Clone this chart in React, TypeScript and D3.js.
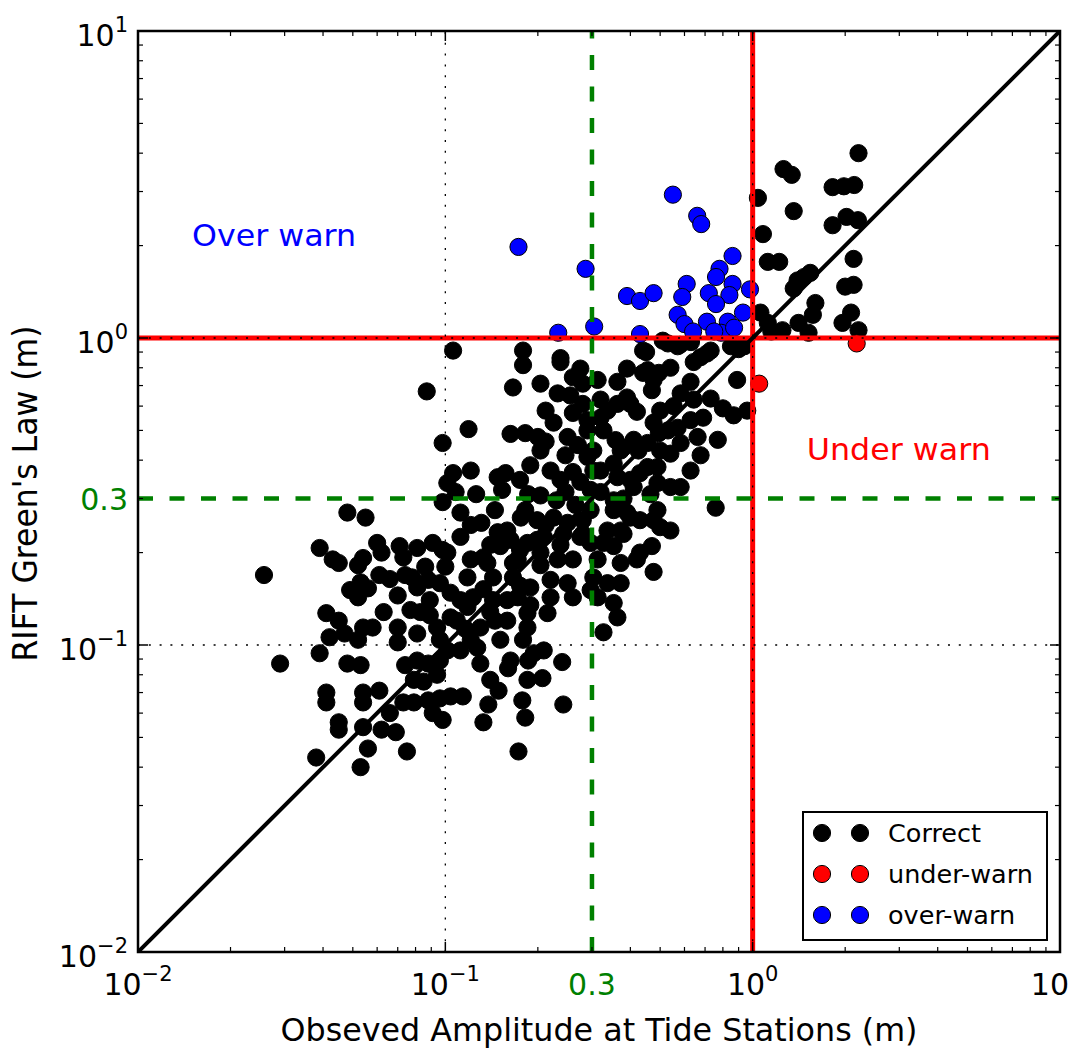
import React from 'react';
import * as d3 from 'd3';

// Observed amplitude (m), RIFT Green's law amplitude (m)
const correctPts: [number, number][] = [
  [2.21, 4.0], [1.26, 3.55], [1.34, 3.40], [1.04, 2.86], [1.82, 3.10], [1.98, 3.12], [2.14, 3.15], [1.36, 2.59],
  [1.08, 2.18], [1.82, 2.33], [2.02, 2.48], [2.20, 2.42], [1.12, 1.77], [1.22, 1.77], [2.13, 1.81], [1.40, 1.54],
  [1.54, 1.63], [1.36, 1.45], [1.47, 1.58], [2.0, 1.47], [2.13, 1.49], [1.06, 1.21], [1.12, 1.12], [1.60, 1.30],
  [1.57, 1.19], [1.41, 1.12], [1.52, 1.04], [1.25, 1.06], [1.15, 1.05], [2.09, 1.21], [1.96, 1.12], [2.21, 1.06],
  [0.94, 0.94], [0.106, 0.91], [0.179, 0.91], [0.237, 0.86], [0.44, 0.91], [0.51, 0.98], [0.57, 0.94], [0.63, 0.97],
  [0.71, 0.89], [0.85, 0.94], [0.53, 0.96], [0.58, 0.95], [0.45, 0.90], [0.73, 0.91], [0.90, 0.92],
  [0.179, 0.816], [0.237, 0.835], [0.275, 0.795], [0.26, 0.745], [0.313, 0.73], [0.28, 0.71], [0.455, 0.786],
  [0.54, 0.80], [0.643, 0.835], [0.677, 0.866], [0.39, 0.795], [0.44, 0.77], [0.495, 0.77], [0.476, 0.73],
  [0.363, 0.72], [0.204, 0.71], [0.89, 0.73], [0.628, 0.72],
  [0.087, 0.67], [0.166, 0.69], [0.232, 0.66], [0.47, 0.676], [0.583, 0.66], [0.28, 0.61], [0.363, 0.61],
  [0.39, 0.64], [0.40, 0.61], [0.42, 0.575], [0.337, 0.58], [0.553, 0.60], [0.643, 0.63], [0.73, 0.635],
  [0.80, 0.59], [0.867, 0.56], [0.96, 0.58], [0.69, 0.55], [0.29, 0.54], [0.32, 0.55], [0.26, 0.57],
  [0.225, 0.53], [0.476, 0.53], [0.32, 0.63], [0.50, 0.58], [0.628, 0.54], [0.255, 0.65], [0.212, 0.58],
  [0.119, 0.505], [0.098, 0.455], [0.163, 0.487], [0.182, 0.49], [0.20, 0.476], [0.212, 0.46], [0.29, 0.50],
  [0.327, 0.50], [0.57, 0.51], [0.53, 0.50], [0.495, 0.49], [0.41, 0.466], [0.455, 0.455], [0.662, 0.476],
  [0.77, 0.466], [0.583, 0.455], [0.38, 0.44], [0.425, 0.43], [0.303, 0.43], [0.204, 0.43], [0.25, 0.476],
  [0.27, 0.448], [0.358, 0.465], [0.50, 0.43], [0.677, 0.415],
  [0.189, 0.385], [0.22, 0.37], [0.157, 0.363], [0.26, 0.366], [0.275, 0.34], [0.106, 0.363], [0.1015, 0.337],
  [0.353, 0.39], [0.455, 0.38], [0.43, 0.363], [0.628, 0.37], [0.54, 0.42], [0.29, 0.41], [0.303, 0.37],
  [0.148, 0.352], [0.246, 0.415], [0.363, 0.352], [0.372, 0.43], [0.49, 0.38], [0.32, 0.37], [0.121, 0.37],
  [0.108, 0.315], [0.126, 0.31], [0.153, 0.32], [0.186, 0.31], [0.204, 0.307], [0.246, 0.315], [0.32, 0.315],
  [0.49, 0.337], [0.54, 0.327], [0.583, 0.327], [0.465, 0.31], [0.38, 0.30], [0.353, 0.296], [0.098, 0.292],
  [0.41, 0.327], [0.175, 0.345], [0.237, 0.345], [0.40, 0.345], [0.297, 0.32], [0.23, 0.296], [0.265, 0.286],
  [0.112, 0.27], [0.131, 0.25], [0.048, 0.27], [0.055, 0.26], [0.145, 0.275], [0.182, 0.275], [0.199, 0.255],
  [0.225, 0.26], [0.25, 0.25], [0.39, 0.27], [0.49, 0.275], [0.758, 0.28], [0.297, 0.275], [0.28, 0.255],
  [0.50, 0.242], [0.337, 0.236], [0.476, 0.255], [0.353, 0.275], [0.54, 0.236], [0.159, 0.236], [0.176, 0.26],
  [0.40, 0.26], [0.121, 0.246], [0.212, 0.246], [0.43, 0.255], [0.372, 0.236],
  [0.148, 0.233], [0.112, 0.225], [0.163, 0.22], [0.199, 0.22], [0.28, 0.23], [0.039, 0.207], [0.060, 0.215],
  [0.062, 0.20], [0.071, 0.21], [0.073, 0.193], [0.081, 0.207], [0.091, 0.215], [0.098, 0.204], [0.133, 0.193],
  [0.172, 0.19], [0.204, 0.20], [0.232, 0.19], [0.26, 0.19], [0.313, 0.19], [0.372, 0.185], [0.43, 0.20],
  [0.47, 0.21], [0.043, 0.19], [0.045, 0.185], [0.054, 0.192], [0.052, 0.182], [0.1015, 0.20], [0.209, 0.225],
  [0.185, 0.215], [0.242, 0.23], [0.275, 0.225], [0.297, 0.215], [0.327, 0.215], [0.353, 0.21], [0.38, 0.23],
  [0.42, 0.19], [0.166, 0.185], [0.151, 0.21], [0.137, 0.185], [0.121, 0.19], [0.204, 0.182], [0.14, 0.212],
  [0.175, 0.204], [0.237, 0.212],
  [0.0257, 0.169], [0.053, 0.16], [0.056, 0.153], [0.052, 0.143], [0.066, 0.164], [0.078, 0.166], [0.070, 0.145],
  [0.081, 0.154], [0.088, 0.163], [0.096, 0.159], [0.118, 0.166], [0.143, 0.166], [0.166, 0.166], [0.189, 0.154],
  [0.22, 0.163], [0.25, 0.159], [0.303, 0.166], [0.372, 0.159], [0.104, 0.148], [0.123, 0.143], [0.143, 0.14],
  [0.172, 0.143], [0.22, 0.143], [0.26, 0.143], [0.313, 0.143], [0.353, 0.137], [0.476, 0.173], [0.337, 0.159],
  [0.297, 0.151], [0.133, 0.152], [0.159, 0.14], [0.175, 0.156], [0.1, 0.18], [0.086, 0.18], [0.089, 0.14],
  [0.112, 0.14], [0.061, 0.169], [0.049, 0.151], [0.074, 0.169],
  [0.041, 0.127], [0.045, 0.12], [0.063, 0.128], [0.058, 0.114], [0.054, 0.114], [0.042, 0.106], [0.047, 0.109],
  [0.052, 0.104], [0.070, 0.114], [0.081, 0.109], [0.089, 0.125], [0.094, 0.114], [0.104, 0.123], [0.215, 0.127],
  [0.109, 0.12], [0.13, 0.114], [0.159, 0.12], [0.185, 0.114], [0.151, 0.104], [0.179, 0.104], [0.363, 0.123],
  [0.327, 0.11], [0.185, 0.127], [0.118, 0.133], [0.14, 0.128], [0.189, 0.135], [0.145, 0.12], [0.121, 0.104],
  [0.077, 0.13], [0.083, 0.128], [0.116, 0.113], [0.096, 0.104],
  [0.070, 0.102], [0.039, 0.094], [0.029, 0.087], [0.048, 0.087], [0.053, 0.086], [0.074, 0.086], [0.081, 0.089],
  [0.088, 0.087], [0.096, 0.089], [0.1015, 0.096], [0.127, 0.098], [0.194, 0.094], [0.24, 0.088], [0.209, 0.096],
  [0.186, 0.089], [0.16, 0.084], [0.13, 0.087], [0.079, 0.077], [0.085, 0.076], [0.094, 0.080], [0.207, 0.078],
  [0.14, 0.077], [0.185, 0.077], [0.112, 0.096], [0.163, 0.089],
  [0.041, 0.070], [0.041, 0.065], [0.054, 0.070], [0.054, 0.065], [0.073, 0.065], [0.079, 0.065], [0.088, 0.066],
  [0.096, 0.067], [0.104, 0.068], [0.114, 0.068], [0.149, 0.071], [0.138, 0.064], [0.178, 0.066], [0.242, 0.064],
  [0.091, 0.060], [0.098, 0.057], [0.066, 0.060], [0.061, 0.071],
  [0.045, 0.056], [0.045, 0.053], [0.054, 0.054], [0.062, 0.053], [0.069, 0.052], [0.133, 0.056], [0.182, 0.058],
  [0.038, 0.043], [0.056, 0.046], [0.053, 0.040], [0.075, 0.045], [0.173, 0.045],
];

const underWarnPts: [number, number][] = [[2.18, 0.96], [1.05, 0.71]];

const overWarnPts: [number, number][] = [
  [0.55, 2.93], [0.66, 2.50], [0.68, 2.35], [0.173, 1.98], [0.286, 1.68], [0.86, 1.85], [0.78, 1.68], [0.76, 1.58],
  [0.61, 1.50], [0.86, 1.50], [0.72, 1.40], [0.84, 1.38], [0.98, 1.44], [0.39, 1.37], [0.43, 1.32], [0.476, 1.40],
  [0.59, 1.36], [0.76, 1.29], [0.57, 1.19], [0.93, 1.21], [0.71, 1.13], [0.60, 1.11], [0.83, 1.13], [0.64, 1.05],
  [0.79, 1.04], [0.87, 1.08], [0.233, 1.04], [0.305, 1.09], [0.43, 1.03], [0.75, 1.05],
];

const axisDomain: [number, number] = [0.01, 10];
const thresholdWarn = 1.0;
const thresholdLow = 0.3;

type TickLabel = { v: number; base: string; sup?: string; color: string };
const xTickLabels: TickLabel[] = [
  { v: 0.01, base: '10', sup: '\u22122', color: '#000' },
  { v: 0.1, base: '10', sup: '\u22121', color: '#000' },
  { v: 0.3, base: '0.3', color: 'green' },
  { v: 1, base: '10', sup: '0', color: '#000' },
];
const xLastLabel = { v: 10, text: '10' };
const yTickLabels: TickLabel[] = [
  { v: 0.01, base: '10', sup: '\u22122', color: '#000' },
  { v: 0.1, base: '10', sup: '\u22121', color: '#000' },
  { v: 0.3, base: '0.3', color: 'green' },
  { v: 1, base: '10', sup: '0', color: '#000' },
  { v: 10, base: '10', sup: '1', color: '#000' },
];

const annotations = [
  { text: 'Over warn', x: 0.015, y: 2.0, color: 'blue', len: 164 },
  { text: 'Under warn', x: 1.5, y: 0.4, color: 'red', len: 184 },
];

const legendItems = [
  { label: 'Correct', color: '#000' },
  { label: 'under-warn', color: 'red' },
  { label: 'over-warn', color: 'blue' },
];

const W = 1071;
const H = 1051;
const L = 138, R = 1060, T = 31, B = 952;
const FONT = 'DejaVu Sans';

export default function App() {
  const x = d3.scaleLog().domain(axisDomain).range([L, R]);
  const y = d3.scaleLog().domain(axisDomain).range([B, T]);

  const majors = [0.01, 0.1, 1, 10];
  const minors: number[] = [];
  [0.01, 0.1, 1].forEach((d) => {
    for (let k = 2; k <= 9; k++) minors.push(d * k);
  });

  const r = 8.6;
  const dot = (pts: [number, number][], color: string, key: string) =>
    pts.map((p, i) => (
      <circle key={key + i} cx={x(p[0])} cy={y(p[1])} r={r} fill={color} stroke="#000" strokeWidth={1} />
    ));

  const gridDash = '2,8.8';

  return (
    <svg
      width={W}
      height={H}
      style={{ position: 'absolute', left: 0, top: 0, background: '#fff' }}
      fontFamily={FONT}
    >
      <rect x={0} y={0} width={W} height={H} fill="#fff" />
      <defs>
        <clipPath id="plotArea">
          <rect x={L} y={T} width={R - L} height={B - T} />
        </clipPath>
      </defs>
      <g clipPath="url(#plotArea)">
        {dot(correctPts, '#000', 'c')}
        {dot(underWarnPts, 'red', 'u')}
        {dot(overWarnPts, 'blue', 'o')}
        {/* threshold lines */}
        <line x1={x(thresholdWarn)} x2={x(thresholdWarn)} y1={B} y2={T} stroke="red" strokeWidth={5} />
        <line x1={L} x2={R} y1={y(thresholdWarn)} y2={y(thresholdWarn)} stroke="red" strokeWidth={5} />
        <line x1={x(thresholdLow)} x2={x(thresholdLow)} y1={B} y2={T} stroke="green" strokeWidth={4.5} strokeDasharray="15,16.5" />
        <line x1={L} x2={R} y1={y(thresholdLow)} y2={y(thresholdLow)} stroke="green" strokeWidth={4.5} strokeDasharray="15,16.5" />
        {/* 1:1 line */}
        <line x1={x(axisDomain[0])} y1={y(axisDomain[0])} x2={x(axisDomain[1])} y2={y(axisDomain[1])} stroke="#000" strokeWidth={4} />
        {/* grid */}
        {majors.map((v) => (
          <g key={'g' + v}>
            <line x1={x(v)} x2={x(v)} y1={B} y2={T} stroke="#000" strokeWidth={1.3} strokeDasharray={gridDash} />
            <line x1={L} x2={R} y1={y(v)} y2={y(v)} stroke="#000" strokeWidth={1.3} strokeDasharray={gridDash} />
          </g>
        ))}
      </g>

      {/* frame */}
      <rect x={L} y={T} width={R - L} height={B - T} fill="none" stroke="#000" strokeWidth={2.5} />

      {/* ticks */}
      {majors.map((v) => (
        <g key={'mt' + v} stroke="#000" strokeWidth={1.5}>
          <line x1={x(v)} x2={x(v)} y1={B} y2={B - 10} />
          <line x1={x(v)} x2={x(v)} y1={T} y2={T + 10} />
          <line x1={L} x2={L + 10} y1={y(v)} y2={y(v)} />
          <line x1={R} x2={R - 10} y1={y(v)} y2={y(v)} />
        </g>
      ))}
      {minors.map((v) => (
        <g key={'nt' + v} stroke="#000" strokeWidth={1.2}>
          <line x1={x(v)} x2={x(v)} y1={B} y2={B - 5} />
          <line x1={x(v)} x2={x(v)} y1={T} y2={T + 5} />
          <line x1={L} x2={L + 5} y1={y(v)} y2={y(v)} />
          <line x1={R} x2={R - 5} y1={y(v)} y2={y(v)} />
        </g>
      ))}

      {/* tick labels */}
      {xTickLabels.map((t) => (
        <text key={'xl' + t.v} x={x(t.v)} y={995} textAnchor="middle" fontSize={30} fill={t.color} fontFamily={FONT}>
          {t.base}
          {t.sup && (
            <tspan fontSize={21} dy={-14}>
              {t.sup}
            </tspan>
          )}
        </text>
      ))}
      <text x={x(xLastLabel.v) + 9} y={995} textAnchor="end" fontSize={30} fontFamily={FONT}>
        {xLastLabel.text}
      </text>
      {yTickLabels.map((t) => (
        <text
          key={'yl' + t.v}
          x={128}
          y={y(t.v) + (t.sup ? 15 : 11)}
          textAnchor="end"
          fontSize={30}
          fill={t.color}
          fontFamily={FONT}
        >
          {t.base}
          {t.sup && (
            <tspan fontSize={21} dy={-14}>
              {t.sup}
            </tspan>
          )}
        </text>
      ))}

      {/* axis titles */}
      <text
        x={(L + R) / 2}
        y={1041}
        textAnchor="middle"
        fontSize={32}
        fontFamily={FONT}
        textLength={637}
        lengthAdjust="spacingAndGlyphs"
      >
        Obseved Amplitude at Tide Stations (m)
      </text>
      <text
        transform={`translate(37,${(T + B) / 2 + 2}) rotate(-90)`}
        textAnchor="middle"
        fontSize={33}
        fontFamily={FONT}
        textLength={336}
        lengthAdjust="spacingAndGlyphs"
      >
        RIFT Green's Law (m)
      </text>

      {/* annotations */}
      {annotations.map((a) => (
        <text
          key={a.text}
          x={x(a.x)}
          y={y(a.y)}
          fontSize={31}
          fill={a.color}
          fontFamily={FONT}
          textLength={a.len}
          lengthAdjust="spacingAndGlyphs"
        >
          {a.text}
        </text>
      ))}

      {/* legend */}
      <g>
        <rect x={803} y={812} width={244} height={128} fill="#fff" stroke="#000" strokeWidth={2} />
        {legendItems.map((it, i) => {
          const cy = 833 + i * 41;
          return (
            <g key={it.label}>
              <circle cx={822} cy={cy} r={r} fill={it.color} stroke="#000" strokeWidth={1} />
              <circle cx={860} cy={cy} r={r} fill={it.color} stroke="#000" strokeWidth={1} />
              <text x={888} y={cy + 9} fontSize={25.5} fontFamily={FONT} fill="#000">
                {it.label}
              </text>
            </g>
          );
        })}
      </g>
    </svg>
  );
}
